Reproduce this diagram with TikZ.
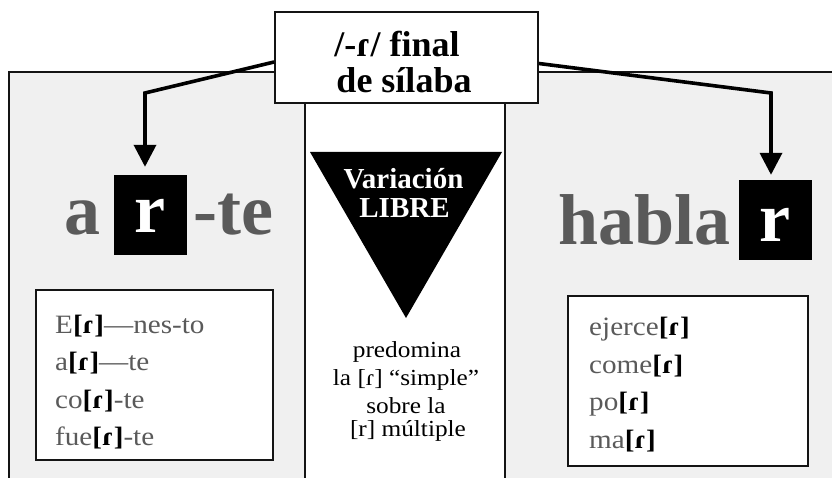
\documentclass[tikz,border=0pt]{standalone}
\usepackage{fontspec}
\setmainfont{Liberation Serif}[FakeStretch=1.1]
\newfontfamily\plainserif{Liberation Serif}
\usetikzlibrary{arrows.meta}
\definecolor{bg}{HTML}{F0F0F0}
\definecolor{txtgray}{HTML}{5A5A5A}
\definecolor{edge}{HTML}{141414}
\newcommand{\tapr}{\textbf{\textcolor{black}{[ɾ]}}}
\begin{document}
\begin{tikzpicture}[x=1pt,y=-1pt,
  txt/.style={inner sep=0pt},
  bigword/.style={txt,text=txtgray,font=\plainserif\fontsize{72}{72}\selectfont\bfseries},
  rbox/.style={fill=black,minimum width=73pt,minimum height=80pt,inner sep=0pt},
  rletter/.style={txt,text=white,font=\plainserif\fontsize{70}{70}\selectfont\bfseries},
  exbox/.style={draw=edge,line width=1.8pt,fill=white,inner sep=0pt},
  extext/.style={txt,anchor=base west,text=txtgray,font=\fontsize{26.5}{26.5}\selectfont},
  midtext/.style={txt,anchor=base,font=\fontsize{23}{23}\selectfont},
  tritext/.style={txt,anchor=base,text=white,font=\plainserif\fontsize{29}{29}\selectfont\bfseries},
  toptext/.style={txt,anchor=base,font=\plainserif\fontsize{36}{36}\selectfont\bfseries},
  arr/.style={line width=3.6pt,line join=miter,-{Triangle[width=22pt,length=22pt]}}]
\useasboundingbox (0,0) rectangle (832,478);
% background panels
\fill[bg] (9,72) rectangle (832,478);
\draw[edge,line width=2.5pt] (9,478) -- (9,72) -- (832,72);
\fill[white] (305,100) rectangle (505,478);
\draw[edge,line width=2pt] (305,100) -- (305,478);
\draw[edge,line width=2pt] (505,100) -- (505,478);
% top box
\node[draw=edge,line width=1.8pt,fill=white,minimum width=263pt,minimum height=91pt,inner sep=0pt] (top) at (406.5,57.5) {};
\node[toptext] (t1) at (397,57) {/-ɾ/ final};
\node[toptext] (t2) at (404,93) {de sílaba};
% left word
\node[bigword,anchor=base] (wa) at (82,235) {a};
\node[rbox] (rA) at (150.5,215) {};
\node[rletter,anchor=base] (rAl) at (150.5,233) {r};
\node[bigword,anchor=base west] (wte) at (193,235) {-te};
% right word
\node[bigword,anchor=base east] (whabla) at (731,245) {habla};
\node[rbox] (rB) at (775.5,220) {};
\node[rletter,anchor=base] (rBl) at (775.5,242) {r};
% arrows
\coordinate (bendL) at (145,93);
\coordinate (bendR) at (771,93);
\draw[arr] ([yshift=-4.5pt]top.west) -- (bendL) -- ([xshift=-5.5pt,yshift=8pt]rA.north);
\draw[arr] ([yshift=-6pt]top.east) -- (bendR) -- ([xshift=-4.5pt,yshift=5pt]rB.north);
% triangle
\fill[black] (310,152) -- (502,152) -- (406,318) -- cycle;
\node[tritext] (var) at (403.5,189) {Variación};
\node[tritext] (libre) at (404.5,218) {LIBRE};
% middle text
\node[midtext] (m1) at (407,357) {predomina};
\node[midtext] (m2) at (406,385) {la [ɾ] “simple”};
\node[midtext] (m3) at (406,413) {sobre la};
\node[midtext] (m4) at (408,436) {[r] múltiple};
% left examples
\node[exbox,minimum width=237pt,minimum height=170pt] (exL) at (154.5,375) {};
\node[extext] (l1) at (55,333) {E\tapr—nes-to};
\node[extext] (l2) at (55,370) {a\tapr—te};
\node[extext] (l3) at (55,408) {co\tapr-te};
\node[extext] (l4) at (55,445) {fue\tapr-te};
% right examples
\node[exbox,minimum width=240pt,minimum height=170pt] (exR) at (688,381) {};
\node[extext] (r1) at (589,335) {ejerce\tapr};
\node[extext] (r2) at (589,373) {come\tapr};
\node[extext] (r3) at (589,410) {po\tapr};
\node[extext] (r4) at (589,448) {ma\tapr};
\end{tikzpicture}
\end{document}
